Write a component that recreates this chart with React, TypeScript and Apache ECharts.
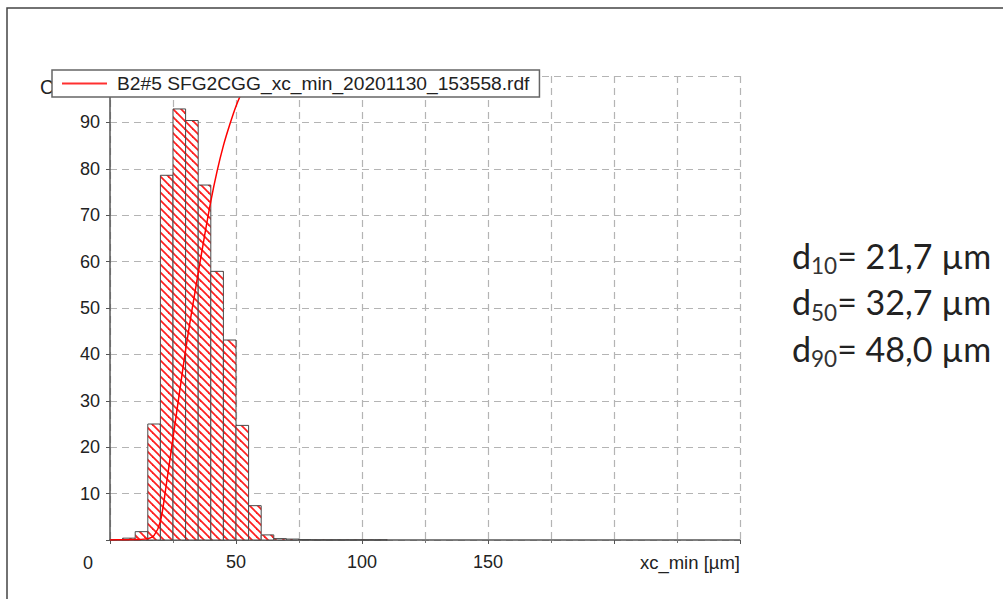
import React, { useEffect, useRef } from "react";
import * as echarts from "echarts";

// Histogram bins (µm) and density values
const binStarts = [0, 5, 10, 15, 20, 25, 30, 35, 40, 45, 50, 55, 60, 65, 70, 75, 80, 85, 90, 95, 100, 105];
const binWidth = 5;
const histValues = [0.05, 0.4, 1.8, 25.0, 78.6, 92.9, 90.4, 76.5, 57.9, 43.1, 24.7, 7.4, 1.1, 0.3, 0.2, 0.1, 0.05, 0.05, 0.05, 0.05, 0.05, 0.05];

// Cumulative curve Q3 (%)
const cumX = [0, 5, 10, 15, 17.5, 20, 22.5, 25, 27.5, 30, 32.5, 35, 37.5, 40, 42.5, 45, 47.5, 50, 52.5, 55, 57.5, 60, 65];
const cumQ = [0, 0.05, 0.1, 0.3, 1.0, 4.0, 12.5, 22.0, 31.5, 41.0, 49.5, 57.5, 65.5, 73.0, 79.5, 85.0, 89.5, 93.5, 96.5, 98.3, 99.3, 99.8, 100];

const xTickLabels = [50, 100, 150];
const legendName = "B2#5 SFG2CGG_xc_min_20201130_153558.rdf";
const xAxisName = "xc_min [µm]";
const dLabels = ["10", "50", "90"];
const dValues = ["21,7", "32,7", "48,0"];

export default function App() {
  const ref = useRef<HTMLDivElement>(null);
  useEffect(() => {
    if (!ref.current) return;
    const chart = echarts.init(ref.current, undefined, { renderer: "svg" });

    const T = 8;
    const c = document.createElement("canvas");
    c.width = T;
    c.height = T;
    const ctx = c.getContext("2d")!;
    ctx.fillStyle = "#ffffff";
    ctx.fillRect(0, 0, T, T);
    ctx.strokeStyle = "#ff2020";
    ctx.lineWidth = 1.8;
    for (const o of [-T, 0, T]) {
      ctx.beginPath();
      ctx.moveTo(o - 1, -1);
      ctx.lineTo(o + T + 1, T + 1);
      ctx.stroke();
    }
    const pattern = { image: c, repeat: "repeat" };

    const histData = binStarts.map((s, i) => [s, s + binWidth, histValues[i]]);
    const cumData = cumX.map((x, i) => [x, cumQ[i]]);

    const font = "Arial, 'Liberation Sans', sans-serif";
    const gridDash = { color: "#b4b4b4", type: [7, 5] as any, width: 1.2 };

    const dTexts = dLabels.map((l, i) => ({
      type: "text",
      x: 792,
      y: 255 + i * 46.5,
      style: {
        text: `{m|d}{s|${l}}{m|= ${dValues[i]} µm}`,
        fill: "#222",
        verticalAlign: "middle",
        rich: {
          m: { fontSize: 34, fontFamily: "Lato", fill: "#222", lineHeight: 44 },
          s: { fontSize: 22.5, fontFamily: "Lato", fill: "#333", lineHeight: 23, verticalAlign: "bottom" },
        },
      },
      z: 10,
    }));

    chart.setOption({
      animation: false,
      backgroundColor: "#ffffff",
      grid: { left: 110, top: 76, width: 630, height: 464, containLabel: false },
      legend: {
        left: 52,
        top: 70,
        padding: [4, 10, 4, 10],
        itemWidth: 45,
        itemHeight: 2,
        itemGap: 10,
        backgroundColor: "#ffffff",
        borderColor: "#666",
        borderWidth: 1.5,
        textStyle: { fontSize: 19.2, fontFamily: font, color: "#222", padding: [0, 0, 0, 5] },
        data: [{ name: legendName, icon: "rect", itemStyle: { color: "#ff3030" } }],
        z: 20,
      },
      xAxis: {
        type: "value",
        min: 0,
        max: 250,
        interval: 50,
        axisLine: { show: true, lineStyle: { color: "#555", width: 1.5 } },
        axisTick: { show: true, length: 4, lineStyle: { color: "#555" } },
        minorTick: { show: true, splitNumber: 2, length: 3, lineStyle: { color: "#777" } },
        splitLine: { show: true, lineStyle: gridDash },
        minorSplitLine: { show: true, lineStyle: gridDash },
        axisLabel: {
          margin: 13,
          fontSize: 18,
          fontFamily: font,
          color: "#222",
          formatter: (v: number) => (xTickLabels.indexOf(v) >= 0 ? String(v) : ""),
        },
        name: xAxisName,
        nameLocation: "end",
        nameGap: 0,
        nameTextStyle: { fontSize: 18.5, fontFamily: font, color: "#222", align: "right", verticalAlign: "top", padding: [13, 0, 0, 0] },
      },
      yAxis: {
        type: "value",
        min: 0,
        max: 100,
        interval: 10,
        axisLine: { show: true, lineStyle: { color: "#555", width: 1.5 } },
        axisTick: { show: true, length: 4, lineStyle: { color: "#555" } },
        splitLine: { show: true, lineStyle: gridDash },
        axisLabel: {
          margin: 10,
          fontSize: 18,
          fontFamily: font,
          color: "#222",
          formatter: (v: number) => (v > 0 && v < 100 ? String(v) : ""),
        },
      },
      graphic: [
        {
          type: "rect",
          shape: { x: 7, y: 8, width: 1200, height: 800 },
          style: { fill: "none", stroke: "#444", lineWidth: 1.5 },
          z: 0,
        },
        { type: "text", x: 88, y: 563, style: { text: "0", fontSize: 18, fontFamily: font, fill: "#222", align: "center", verticalAlign: "middle" }, z: 10 },
        { type: "text", x: 40, y: 87, style: { text: "C", fontSize: 19.5, fontFamily: font, fill: "#222", verticalAlign: "middle" }, z: 1 },
        ...dTexts,
      ],
      series: [
        {
          type: "custom",
          name: "hist",
          data: histData,
          encode: { x: [0, 1], y: 2 },
          renderItem: (params: any, api: any) => {
            const p0 = api.coord([api.value(0), api.value(2)]);
            const p1 = api.coord([api.value(1), 0]);
            return {
              type: "rect",
              shape: { x: p0[0], y: p0[1], width: p1[0] - p0[0], height: p1[1] - p0[1] },
              style: { fill: pattern, stroke: "#4a4a4a", lineWidth: 1 },
            };
          },
          z: 2,
        },
        {
          type: "line",
          name: legendName,
          data: cumData,
          smooth: 0.3,
          showSymbol: false,
          symbol: "none",
          lineStyle: { color: "#ff0000", width: 1.5 },
          itemStyle: { color: "#ff0000" },
          z: 3,
        },
      ],
    });
    return () => chart.dispose();
  }, []);
  return <div ref={ref} style={{ position: "absolute", left: 0, top: 0, width: 1003, height: 599, background: "#fff" }} />;
}
